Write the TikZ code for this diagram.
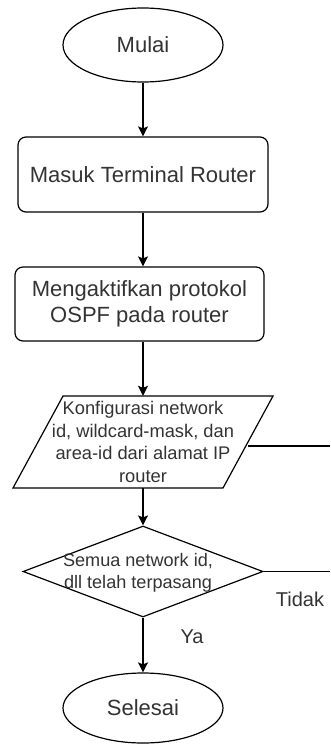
\documentclass[tikz,border=0pt]{standalone}
\usepackage{fontspec}
\setmainfont{Liberation Sans}
\usetikzlibrary{shapes.geometric,arrows.meta}
\definecolor{txt}{HTML}{333333}
\tikzset{
  base/.style={draw=black, line width=1.2pt, text=txt, font=\fontsize{22}{26}\selectfont, align=center, inner sep=0pt},
  term/.style={base, ellipse, minimum width=160pt},
  proc/.style={base, rectangle, rounded corners=8pt},
  decbox/.style={draw=black, line width=1.2pt, diamond, minimum width=240pt, minimum height=91pt, inner sep=0pt},
  small/.style={text=txt, font=\fontsize{18.3}{22.5}\selectfont, align=center, inner sep=0pt},
  lbl/.style={text=txt, font=\fontsize{20}{24}\selectfont, inner sep=0pt},
  conn/.style={line width=1.2pt, -{Stealth[length=10pt,width=10pt,inset=2pt]}},
  plain/.style={line width=1.2pt}
}
\begin{document}
\begin{tikzpicture}[x=1pt,y=-1pt]
\useasboundingbox (0,0) rectangle (330,745);
% terminals and processes
\node[term, minimum height=74pt] (start) at (143,45) {Mulai};
\node[proc, minimum width=250pt, minimum height=75pt] (p1) at (143,174.5) {Masuk Terminal Router};
\node[proc, minimum width=249pt, minimum height=74pt] (p2) at (139.5,304) {Mengaktifkan protokol\\OSPF pada router};
% parallelogram
\draw[plain] (63,396) -- (273,396) -- (223,488) -- (13,488) -- cycle;
\node[small, minimum width=260pt, minimum height=92pt] (conf) at (143,442)
  {Konfigurasi network\\id, wildcard-mask, dan\\area-id dari alamat IP\\router};
% decision
\node[decbox] (dec) at (143,571.5) {};
\node[small, font=\fontsize{18.1}{22}\selectfont] (dectext) at (138,573) {Semua network id,\\dll telah terpasang};
% end
\node[term, minimum height=70pt] (stop) at (143,708) {Selesai};
% free ends
\coordinate (confR) at (248,446);
\coordinate (endA) at (330,446);
\coordinate (endB) at (330,571.5);
% connectors
\draw[conn] (start.south) -- (p1.north);
\draw[conn] (p1.south) -- (p1.south |- p2.north);
\draw[conn] (p1.south |- p2.south) -- (conf.north);
\draw[conn] (conf.south) -- (dec.north);
\draw[conn] (dec.south) -- (stop.north);
\draw[plain] (confR) -- (endA);
\draw[plain] (dec.east) -- (endB);
% labels
\node[lbl] (ya) at (192,637) {Ya};
\node[lbl] (tidak) at (300,599) {Tidak};
\end{tikzpicture}
\end{document}
